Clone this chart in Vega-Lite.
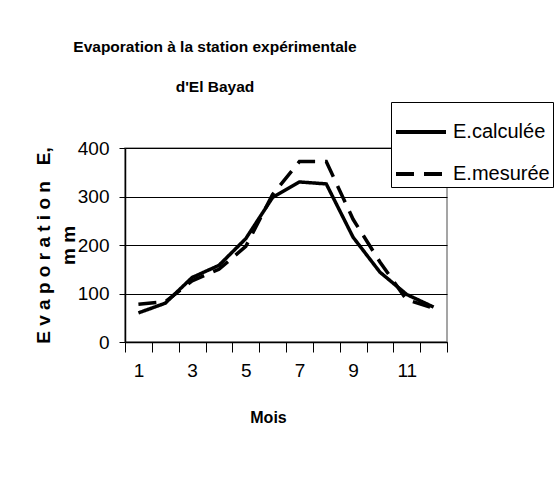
{
  "$schema": "https://vega.github.io/schema/vega-lite/v6.json",
  "autosize": "none",
  "width": 322,
  "height": 194,
  "padding": {"left": 125, "top": 148, "right": 112, "bottom": 155},
  "background": "white",
  "title": {
    "text": ["Evaporation à la station expérimentale", "d'El Bayad"],
    "font": "Liberation Sans, Arial",
    "fontSize": 15.5,
    "fontWeight": "bold",
    "lineHeight": 40,
    "color": "black",
    "anchor": "middle",
    "dx": -71,
    "offset": 6
  },
  "data": {
    "values": [
      {"mois": 1, "serie": "E.calculée", "evap": 60},
      {"mois": 2, "serie": "E.calculée", "evap": 80},
      {"mois": 3, "serie": "E.calculée", "evap": 133},
      {"mois": 4, "serie": "E.calculée", "evap": 158},
      {"mois": 5, "serie": "E.calculée", "evap": 213},
      {"mois": 6, "serie": "E.calculée", "evap": 298},
      {"mois": 7, "serie": "E.calculée", "evap": 330},
      {"mois": 8, "serie": "E.calculée", "evap": 326},
      {"mois": 9, "serie": "E.calculée", "evap": 216},
      {"mois": 10, "serie": "E.calculée", "evap": 144},
      {"mois": 11, "serie": "E.calculée", "evap": 98},
      {"mois": 12, "serie": "E.calculée", "evap": 72},
      {"mois": 1, "serie": "E.mesurée", "evap": 78},
      {"mois": 2, "serie": "E.mesurée", "evap": 83},
      {"mois": 3, "serie": "E.mesurée", "evap": 126},
      {"mois": 4, "serie": "E.mesurée", "evap": 150},
      {"mois": 5, "serie": "E.mesurée", "evap": 197},
      {"mois": 6, "serie": "E.mesurée", "evap": 304},
      {"mois": 7, "serie": "E.mesurée", "evap": 372},
      {"mois": 8, "serie": "E.mesurée", "evap": 372},
      {"mois": 9, "serie": "E.mesurée", "evap": 253},
      {"mois": 10, "serie": "E.mesurée", "evap": 165},
      {"mois": 11, "serie": "E.mesurée", "evap": 87},
      {"mois": 12, "serie": "E.mesurée", "evap": 70}
    ]
  },
  "mark": {"type": "line", "strokeWidth": 3.5, "color": "black"},
  "encoding": {
    "x": {
      "field": "mois",
      "type": "ordinal",
      "scale": {"type": "band", "paddingInner": 0, "paddingOuter": 0},
      "axis": {
        "title": "Mois",
        "titleFont": "Liberation Sans, Arial",
        "titleFontSize": 16,
        "titleFontWeight": "bold",
        "titleColor": "black",
        "titleX": 143,
        "titleY": 67,
        "labelAngle": 0,
        "labelExpr": "datum.value % 2 == 1 ? datum.label : ''",
        "labelFont": "Liberation Sans, Arial",
        "labelFontSize": 19,
        "labelColor": "black",
        "labelPadding": 9,
        "tickBand": "extent",
        "tickSize": 10,
        "tickColor": "black",
        "domainColor": "black",
        "domainWidth": 1.5,
        "grid": false
      }
    },
    "y": {
      "field": "evap",
      "type": "quantitative",
      "scale": {"domain": [0, 400]},
      "axis": {
        "values": [0, 100, 200, 300, 400],
        "title": ["E\u00a0v\u00a0a\u00a0p\u00a0o\u00a0r\u00a0a\u00a0t\u00a0i\u00a0o\u00a0n\u00a0\u00a0\u00a0E,", "m\u00a0m"],
        "titleFont": "Liberation Sans, Arial",
        "titleFontSize": 19,
        "titleFontWeight": "bold",
        "titleColor": "black",
        "titleLineHeight": 25,
        "titlePadding": -1,
        "labelFont": "Liberation Sans, Arial",
        "labelFontSize": 19,
        "labelColor": "black",
        "labelPadding": 10,
        "tickSize": 6,
        "tickColor": "black",
        "domainColor": "black",
        "domainWidth": 1.5,
        "grid": true,
        "gridColor": "black",
        "gridWidth": 1
      }
    },
    "strokeDash": {
      "field": "serie",
      "type": "nominal",
      "scale": {"domain": ["E.calculée", "E.mesurée"], "range": [[1, 0], [18, 10]]},
      "legend": {
        "title": null,
        "orient": "none",
        "legendX": 266,
        "legendY": -46,
        "strokeColor": "black",
        "fillColor": "white",
        "padding": 3,
        "symbolType": "stroke",
        "symbolSize": 2500,
        "symbolStrokeWidth": 4,
        "symbolStrokeColor": "black",
        "labelFont": "Liberation Sans, Arial",
        "labelFontSize": 20,
        "labelColor": "black",
        "labelOffset": 5,
        "rowPadding": 5,
        "labelLimit": 300
      }
    }
  },
  "config": {
    "view": {"stroke": "#888888", "strokeWidth": 1.5}
  }
}
